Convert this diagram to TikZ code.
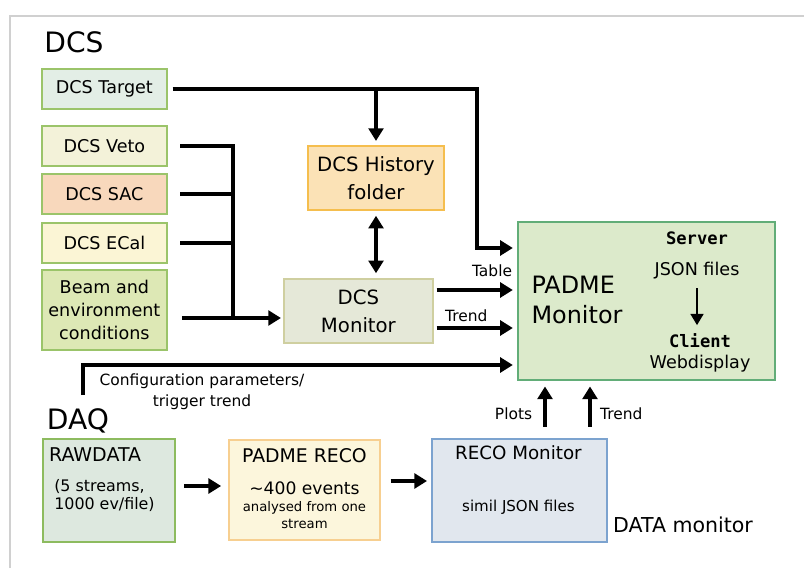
\documentclass[tikz,border=0pt]{standalone}
\usepackage{fontspec}
\setmainfont{DejaVu Sans}
\setmonofont{DejaVu Sans Mono}
\usetikzlibrary{arrows.meta}

\begin{document}
\begin{tikzpicture}[
    every node/.style={font=\fontsize{12.5}{15}\selectfont, inner sep=2pt},
    box/.style={
        rectangle,
        line width=1.2pt,
        align=center
    },
    dcsbox/.style={box, draw=leafgreen, minimum width=3.125cm, minimum height=1.0cm},
    bigbox/.style={box, font=\fontsize{14}{20}\selectfont},
    lbl/.style={font=\fontsize{11}{15}\selectfont},
    title/.style={font=\fontsize{20}{24}\selectfont},
    wire/.style={line width=2.3pt},
    flow/.style={wire, -{Triangle[length=9pt,width=10.5pt]}},
    bothway/.style={wire, {Triangle[length=9pt,width=10.5pt]}-{Triangle[length=9pt,width=10.5pt]}}
]

\definecolor{framegrey}{RGB}{208, 208, 208}
\definecolor{leafgreen}{RGB}{155, 196, 106}
\definecolor{tgtfill}{RGB}{227, 238, 230}
\definecolor{vetofill}{RGB}{243, 242, 217}
\definecolor{sacfill}{RGB}{248, 216, 188}
\definecolor{ecalfill}{RGB}{251, 245, 213}
\definecolor{beamfill}{RGB}{221, 232, 181}
\definecolor{histfill}{RGB}{251, 226, 182}
\definecolor{histedge}{RGB}{245, 190, 78}
\definecolor{monfill}{RGB}{229, 232, 216}
\definecolor{monedge}{RGB}{207, 207, 160}
\definecolor{padfill}{RGB}{220, 234, 203}
\definecolor{padedge}{RGB}{98, 173, 120}
\definecolor{rawfill}{RGB}{221, 232, 223}
\definecolor{rawedge}{RGB}{141, 187, 95}
\definecolor{recofill}{RGB}{252, 246, 220}
\definecolor{recoedge}{RGB}{247, 207, 144}
\definecolor{rmonfill}{RGB}{225, 231, 238}
\definecolor{rmonedge}{RGB}{124, 163, 207}

\useasboundingbox (0, 0) rectangle (20.1, 14.2);
\draw[framegrey, line width=1pt] (0.25, 0) -- (0.25, 13.8) -- (20.1, 13.8);

\node[title] (dcstitle) at (1.85, 13.14) {DCS};
\node[title] (daqtitle) at (1.95, 3.675) {DAQ};
\node[font=\fontsize{14.6}{18}\selectfont] (datamon) at (17.075, 1.075) {DATA monitor};

\node[dcsbox, fill=tgtfill] (target) at (2.61, 11.975) {DCS Target};
\node[dcsbox, fill=vetofill] (veto) at (2.61, 10.55) {DCS Veto};
\node[dcsbox, fill=sacfill] (sac) at (2.61, 9.35) {DCS SAC};
\node[dcsbox, fill=ecalfill] (ecal) at (2.61, 8.125) {DCS ECal};
\node[dcsbox, fill=beamfill, minimum height=2.0cm, font=\fontsize{12.5}{16.4}\selectfont] (beam) at (2.61, 6.45)
    {Beam and\\environment\\conditions};

\node[bigbox, draw=histedge, fill=histfill, minimum width=3.4cm, minimum height=1.6cm] (history) at (9.4, 9.75)
    {DCS History\\folder};
\node[bigbox, draw=monedge, fill=monfill, minimum width=3.725cm, minimum height=1.6cm] (dcsmon) at (8.96, 6.425)
    {DCS\\Monitor};

\node[box, draw=padedge, fill=padfill, minimum width=6.425cm, minimum height=3.95cm] (padme) at (16.16, 6.675) {};
\node[font=\fontsize{17}{21}\selectfont, align=left] (padmename) at (14.425, 6.7) {PADME\\Monitor};
\node[font=\fontsize{12.2}{15}\ttfamily\bfseries] (server) at (17.425, 8.25) {Server};
\node (jsonf) at (17.425, 7.425) {JSON files};
\node[font=\fontsize{12.2}{15}\ttfamily\bfseries] (client) at (17.5, 5.675) {Client};
\node (webdisp) at (17.5, 5.1) {Webdisplay};

\node[box, draw=rawedge, fill=rawfill, minimum width=3.3cm, minimum height=2.575cm] (raw) at (2.725, 1.9375) {};
\node[anchor=west, font=\fontsize{13.5}{16}\selectfont] (rawtitle) at (1.15, 2.825) {RAWDATA};
\node[anchor=west, align=left, font=\fontsize{11.3}{12.8}\selectfont] (rawinfo) at (1.28, 1.8)
    {(5 streams,\\1000 ev/file)};

\node[box, draw=recoedge, fill=recofill, minimum width=3.775cm, minimum height=2.5cm] (reco) at (7.6125, 1.95) {};
\node[font=\fontsize{13.4}{16}\selectfont] (recotitle) at (7.6125, 2.8) {PADME RECO};
\node[align=center, font=\fontsize{9.4}{12}\selectfont] (recoinfo) at (7.6125, 1.575)
    {{\fontsize{12.2}{15}\selectfont \textasciitilde400 events}\\analysed from one\\stream};

\node[box, draw=rmonedge, fill=rmonfill, minimum width=4.375cm, minimum height=2.575cm] (recomon) at (12.99, 1.94) {};
\node[font=\fontsize{13}{16}\selectfont] (rmontitle) at (12.96, 2.875) {RECO Monitor};
\node[font=\fontsize{10.7}{13}\selectfont] (rmoninfo) at (12.96, 1.525) {simil JSON files};

\coordinate (tgtturn) at (11.925, 8.0);
\draw[flow, shorten <=3.5pt, shorten >=3pt] (target.east) -| (tgtturn) -- (padme.west |- tgtturn);
\draw[flow, shorten >=3pt] (history.north |- target.east) -- (history.north);
\draw[bothway, shorten <=3.5pt, shorten >=3.5pt] (history.south) -- (history.south |- dcsmon.north);

\coordinate (bus) at (5.825, 6.25);
\draw[wire, shorten <=9pt] (veto.east) -| (bus);
\draw[wire, shorten <=9pt] (sac.east) -- (sac.east -| bus);
\draw[wire, shorten <=9pt] (ecal.east) -- (ecal.east -| bus);
\draw[flow, shorten <=10pt, shorten >=1.5pt] (beam.east |- bus) -- (dcsmon.west |- bus);

\draw[flow, shorten <=2pt, shorten >=3pt] (dcsmon.east |- 0,6.95) -- (padme.west |- 0,6.95)
    node[lbl, pos=0.7, above=6pt] (tablelbl) {Table};
\draw[flow, shorten <=2pt, shorten >=3pt] (dcsmon.east |- 0,6.0) -- (padme.west |- 0,6.0)
    node[lbl, pos=0.39, above=1pt] (trendlbl) {Trend};

\coordinate (cfgstart) at (2.075, 4.325);
\coordinate (cfgturn) at (2.075, 5.075);
\draw[flow, shorten >=3pt] (cfgstart) -- (cfgturn) -- (padme.west |- cfgturn);
\node[lbl, align=center] (cfglabel) at (5.05, 4.41) {Configuration parameters/\\trigger trend};

\draw[wire, -{Triangle[length=8pt,width=9pt]}, line width=1.8pt, shorten <=4pt, shorten >=4pt] (jsonf) -- (jsonf |- client.north);

\draw[flow, shorten <=6pt, shorten >=5pt] (raw.east |- 0,2.05) -- (reco.west |- 0,2.05);
\draw[flow, shorten <=7pt, shorten >=3pt] (reco.east |- 0,2.175) -- (recomon.west |- 0,2.175);

\draw[flow, shorten <=8pt, shorten >=4pt] (recomon.north -| 13.625,0) -- (padme.south -| 13.625,0)
    node[lbl, pos=0.42, left=6pt] (plotslbl) {Plots};
\draw[flow, shorten <=8pt, shorten >=4pt] (recomon.north -| 14.75,0) -- (padme.south -| 14.75,0)
    node[lbl, pos=0.42, right=4pt] (trend2lbl) {Trend};

\end{tikzpicture}
\end{document}
